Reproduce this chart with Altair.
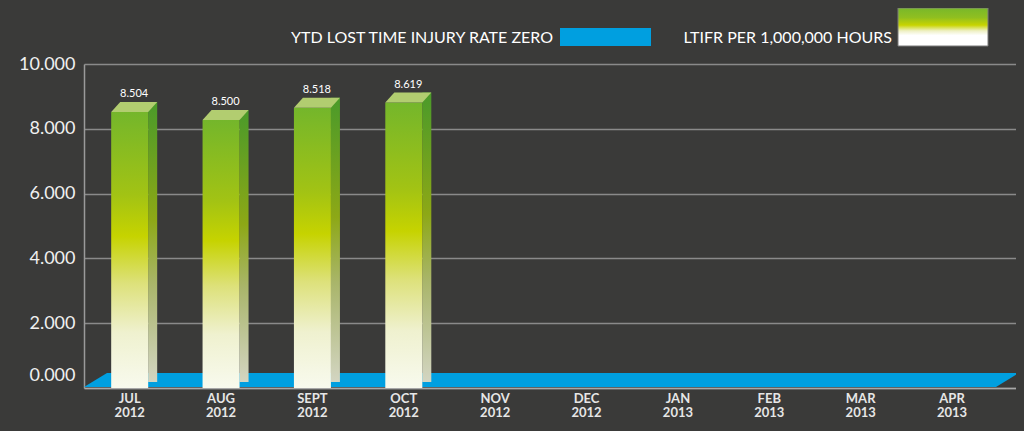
import altair as alt
import pandas as pd

# ---------------- data ----------------
months = ["JUL 2012", "AUG 2012", "SEPT 2012", "OCT 2012", "NOV 2012",
          "DEC 2012", "JAN 2013", "FEB 2013", "MAR 2013", "APR 2013"]
bar_months = ["JUL 2012", "AUG 2012", "SEPT 2012", "OCT 2012"]
bar_heights = [8.52, 8.27, 8.65, 8.81]          # drawn heights
bar_labels = ["8.504", "8.500", "8.518", "8.619"]  # printed values
y_ticks = [0, 2, 4, 6, 8, 10]
legend_zero = "YTD LOST TIME INJURY RATE ZERO"
legend_ltifr = "LTIFR PER 1,000,000 HOURS"

BG = "#3a3a39"

# make the page body match the chart background (no white margin)
try:
    import altair.utils.html as _ah
    _orig_tpl = _ah.TEMPLATES["standard"]

    class _Tpl:
        def render(self, *a, **kw):
            html = _orig_tpl.render(*a, **kw)
            style = "<style>html,body{background:%s;}</style>" % BG
            if "<head>" in html:
                return html.replace("<head>", "<head>" + style, 1)
            return style + html

    _ah.TEMPLATES["standard"] = _Tpl()
except Exception:
    pass

bars = pd.DataFrame({"month": bar_months, "h": bar_heights, "label": bar_labels})
one = pd.DataFrame({"k": [0]})

x_enc = alt.X(
    "month:N",
    sort=months,
    scale=alt.Scale(domain=months, paddingInner=0, paddingOuter=0.1, align=0),
    axis=alt.Axis(
        title=None, labelExpr="split(datum.label, ' ')", labelAngle=0,
        labelColor="#e6e6e6", labelFont="Lato", labelFontSize=13,
        labelFontWeight="bold", labelLineHeight=14, labelPadding=4,
        labelBaseline="top", ticks=False, grid=False,
        domainColor="#a8a8a8", domainWidth=1.5,
    ),
)
y_enc = alt.Y(
    "h:Q",
    scale=alt.Scale(domain=[0, 10], nice=False),
    axis=alt.Axis(
        title=None, values=y_ticks, format=".3f", grid=True,
        gridColor="#8a8a8a", gridWidth=1.5, ticks=False,
        domainColor="#9a9a9a", domainWidth=1.5,
        labelColor="#f0f0f0", labelFont="Lato", labelFontSize=18,
        labelPadding=9,
        labelOffset={"condition": {"test": "datum.value === 0", "value": -13}, "value": 0},
    ),
)

front_grad = alt.Gradient(
    gradient="linear", x1=0, x2=0, y1=0, y2=1,
    stops=[
        alt.GradientStop(color="#74b62b", offset=0),
        alt.GradientStop(color="#a2c314", offset=0.3),
        alt.GradientStop(color="#c6d300", offset=0.45),
        alt.GradientStop(color="#dde17a", offset=0.62),
        alt.GradientStop(color="#eff1cf", offset=0.8),
        alt.GradientStop(color="#f8faee", offset=1),
    ],
)
side_grad = alt.Gradient(
    gradient="linear", x1=0, x2=0, y1=0, y2=1,
    stops=[
        alt.GradientStop(color="#4a9a2a", offset=0),
        alt.GradientStop(color="#8da816", offset=0.42),
        alt.GradientStop(color="#a9b56a", offset=0.65),
        alt.GradientStop(color="#d3d5c2", offset=1),
    ],
)
swatch_grad = alt.Gradient(
    gradient="linear", x1=0, x2=0, y1=0, y2=1,
    stops=[
        alt.GradientStop(color="#78b82a", offset=0),
        alt.GradientStop(color="#90bf20", offset=0.25),
        alt.GradientStop(color="#c8d400", offset=0.45),
        alt.GradientStop(color="#eef0c4", offset=0.6),
        alt.GradientStop(color="#ffffff", offset=0.72),
        alt.GradientStop(color="#ffffff", offset=1),
    ],
)

# blue floor (parallelogram)
floor_path = "M-0.9947,0.0149L0.9457,0.0149L0.9947,-0.0149L-0.9457,-0.0149Z"
floor = alt.Chart(one).mark_point(
    shape=floor_path, size=883600, filled=True, fill="#009fe0",
    opacity=1, strokeWidth=0,
).encode(x=alt.value(467.5), y=alt.value(316))

side = alt.Chart(bars).mark_bar(
    size=9, xOffset=23, yOffset=-10, y2Offset=-6, fill=side_grad,
).encode(x=x_enc, y=y_enc, y2=alt.datum(0))

front = alt.Chart(bars).mark_bar(size=37, fill=front_grad).encode(
    x=x_enc, y=y_enc, y2=alt.datum(0)
)

top_path = "M-0.92,0.2L0.56,0.2L0.92,-0.2L-0.56,-0.2Z"
top = alt.Chart(bars).mark_point(
    shape=top_path, size=2500, filled=True, fill="#b2cd70",
    opacity=1, strokeWidth=0, xOffset=4.5, yOffset=-5,
).encode(x=x_enc, y=y_enc)

labels = alt.Chart(bars).mark_text(
    font="Lato", fontSize=11, color="#ffffff", baseline="middle",
    xOffset=4.5, yOffset=-18,
).encode(x=x_enc, y=y_enc, text="label:N")

# legend
leg_text1 = alt.Chart(one).mark_text(
    text=legend_zero, font="Lato", fontSize=16, color="#ffffff",
    align="right", baseline="middle",
).encode(x=alt.value(469), y=alt.value(-26))
leg_rect1 = alt.Chart(one).mark_rect(fill="#009fe0").encode(
    x=alt.value(476), x2=alt.value(567), y=alt.value(-36), y2=alt.value(-18)
)
leg_text2 = alt.Chart(one).mark_text(
    text=legend_ltifr, font="Lato", fontSize=16, color="#ffffff",
    align="right", baseline="middle",
).encode(x=alt.value(808), y=alt.value(-26))
leg_rect2 = alt.Chart(one).mark_rect(
    fill=swatch_grad, stroke="#7a7a7a", strokeWidth=1
).encode(x=alt.value(814), x2=alt.value(904), y=alt.value(-56), y2=alt.value(-18))

chart = alt.layer(
    floor, side, front, top, labels, leg_text1, leg_rect1, leg_text2, leg_rect2
).properties(
    width=932, height=324,
    autosize=alt.AutoSizeParams(type="none"),
    padding={"left": 76, "top": 56, "right": 0, "bottom": 35},
    background=BG,
).configure_view(stroke=None)

chart.save("out.html", embed_options={"renderer": "svg", "actions": False})
